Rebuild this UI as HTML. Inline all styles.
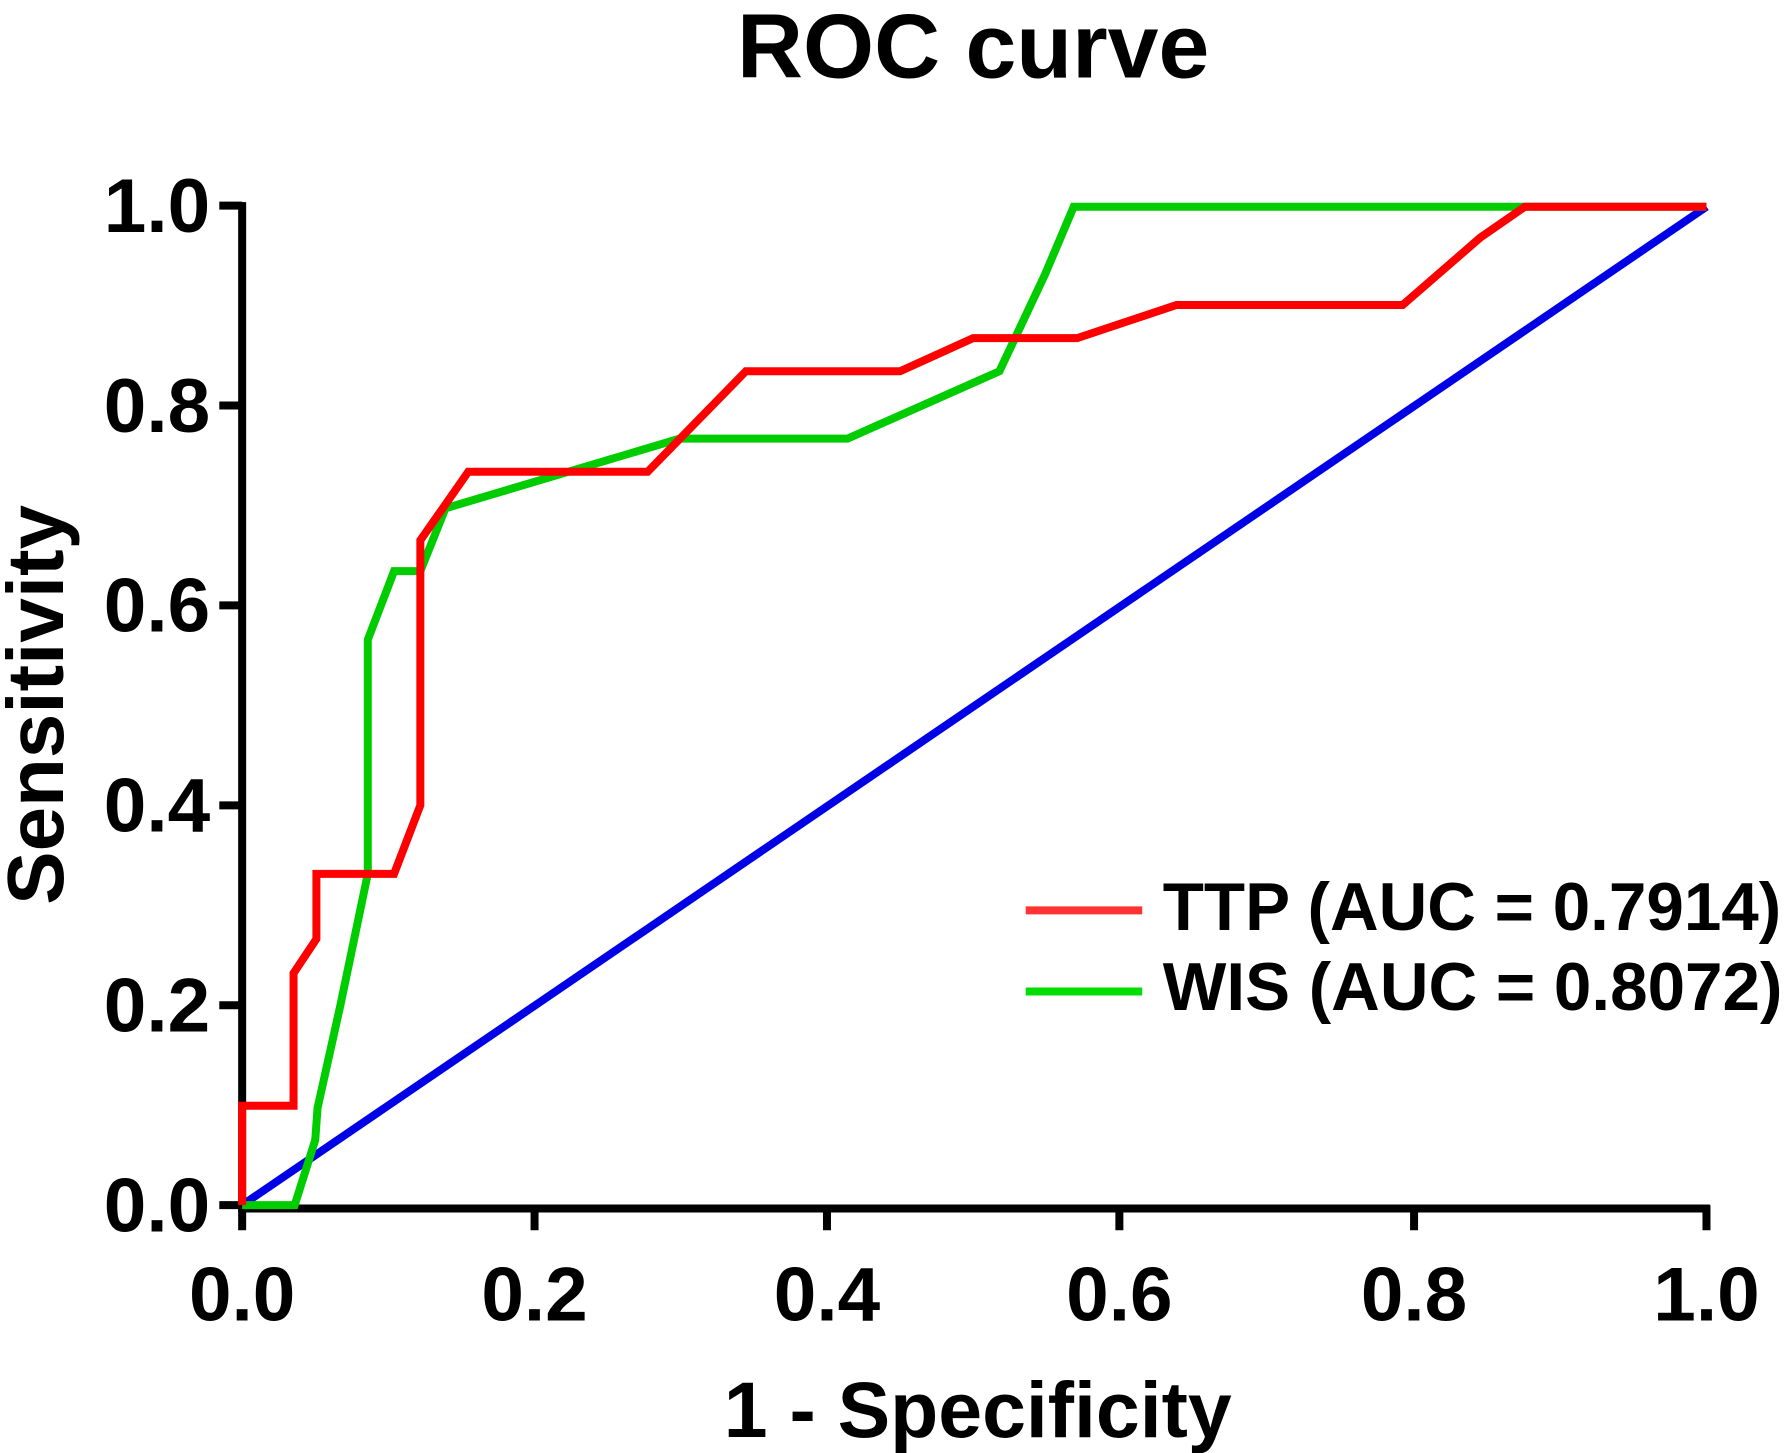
<!DOCTYPE html>
<html><head><style>html,body{margin:0;padding:0;background:#fff}svg{display:block}</style></head>
<body>
<svg width="1791" height="1453" viewBox="0 0 1568 1272" preserveAspectRatio="none" xmlns="http://www.w3.org/2000/svg">
<g font-family="Liberation Sans, Arial, sans-serif" font-weight="bold" fill="#000">
<text x="852" y="68" font-size="80" text-anchor="middle">ROC curve</text>
<text x="856" y="1258" font-size="69" text-anchor="middle">1 - Specificity</text>
<text transform="translate(55,617) rotate(-90)" font-size="70" text-anchor="middle">Sensitivity</text>
<g font-size="67" text-anchor="end">
<text x="184" y="1078">0.0</text><text x="184" y="903">0.2</text><text x="184" y="728">0.4</text>
<text x="184" y="553">0.6</text><text x="184" y="378">0.8</text><text x="184" y="203">1.0</text>
</g>
<g font-size="67" text-anchor="middle">
<text x="212" y="1156">0.0</text><text x="468" y="1156">0.2</text><text x="724" y="1156">0.4</text>
<text x="980" y="1156">0.6</text><text x="1238" y="1156">0.8</text><text x="1494" y="1156">1.0</text>
</g>
<text x="1018" y="814" font-size="59">TTP (AUC = 0.7914)</text>
<text x="1018" y="884" font-size="59">WIS (AUC = 0.8072)</text>
</g>
<g stroke="#000" stroke-width="7" fill="none">
<path d="M212 177 V1058 H1497"/>
<path d="M192 180 H212 M192 355 H212 M192 530 H212 M192 705 H212 M192 880 H212 M192 1055 H212"/>
<path d="M212 1055 V1077 M468 1055 V1077 M724 1055 V1077 M980 1055 V1077 M1238 1055 V1077 M1494 1055 V1077"/>
</g>
<g fill="none" stroke-width="7" stroke-linejoin="miter">
<path stroke="#0000e6" d="M212 1055 L1494 181"/>
<path stroke="#00cc00" d="M212 1055 L258 1055 L276 998 L278 970 L298 880 L322 765 L322 560 L345 500 L368 500 L390 445 L595 384 L742 384 L875 325 L915 240 L940 181 L1494 181"/>
<path stroke="#ff0000" d="M212 1055 L212 968 L257 968 L257 852 L277 822 L277 765 L345 765 L368 705 L368 473 L410 413 L567 413 L653 325 L788 325 L852 296 L943 296 L1030 267 L1228 267 L1296 208 L1335 181 L1494 181"/>
<path stroke="#ff3333" d="M898 797 H1000"/>
<path stroke="#00dd00" d="M898 868 H1000"/>
</g>
</svg>
</body></html>
